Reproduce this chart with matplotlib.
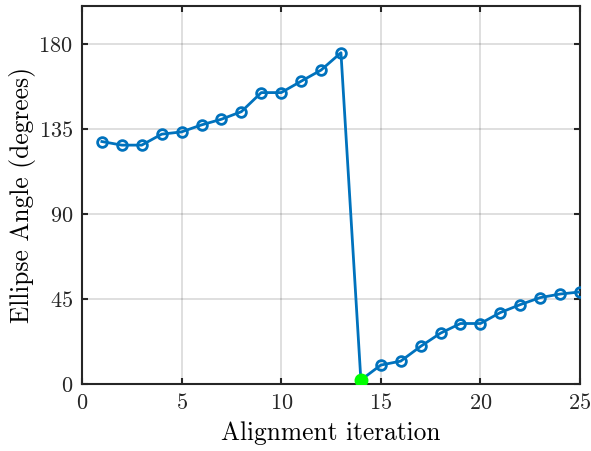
import matplotlib
matplotlib.use("Agg")
import matplotlib.pyplot as plt

plt.rcParams['font.family'] = ['cmr10', 'DejaVu Serif']
plt.rcParams['mathtext.fontset'] = 'cm'
plt.rcParams['axes.formatter.use_mathtext'] = True

iterations = list(range(1, 26))
angles = [128.3, 126.4, 126.4, 132.2, 133.4, 137.1, 140.1, 144.1, 154.2, 154.2,
          160.2, 166.1, 175.3, 2.1, 10.0, 12.1, 19.9, 26.9, 32.0, 32.0,
          37.8, 42.0, 45.7, 47.6, 48.7]
best_iter = 14
best_angle = 2.1

xticks = [0, 5, 10, 15, 20, 25]
yticks = [0, 45, 90, 135, 180]

fig = plt.figure(figsize=(5.91, 4.51), dpi=100)
ax = fig.add_axes([0.1387, 0.1486, 0.8427, 0.838])

ax.plot(iterations, angles, '-o', color='#0072BD', lw=2, ms=7,
        mfc='none', mew=2, zorder=3)
ax.plot(best_iter, best_angle, 'o', color='#00FF00', ms=9, zorder=4)

ax.set_xlim(0, 25)
ax.set_ylim(0, 200)
ax.set_xticks(xticks)
ax.set_yticks(yticks)
ax.grid(True, color='#000000', alpha=0.15, lw=1.2)
ax.set_axisbelow(True)
ax.tick_params(direction='in', length=4, width=1.5, labelsize=16, pad=6.5,
               top=True, right=True, colors='#262626')
for s in ax.spines.values():
    s.set_linewidth(1.5)
    s.set_color('#262626')

ax.set_xlabel('Alignment iteration', fontsize=18.3, labelpad=6)
ax.set_ylabel('Ellipse Angle (degrees)', fontsize=18.3, labelpad=2)

fig.savefig('out.png', dpi=100)
